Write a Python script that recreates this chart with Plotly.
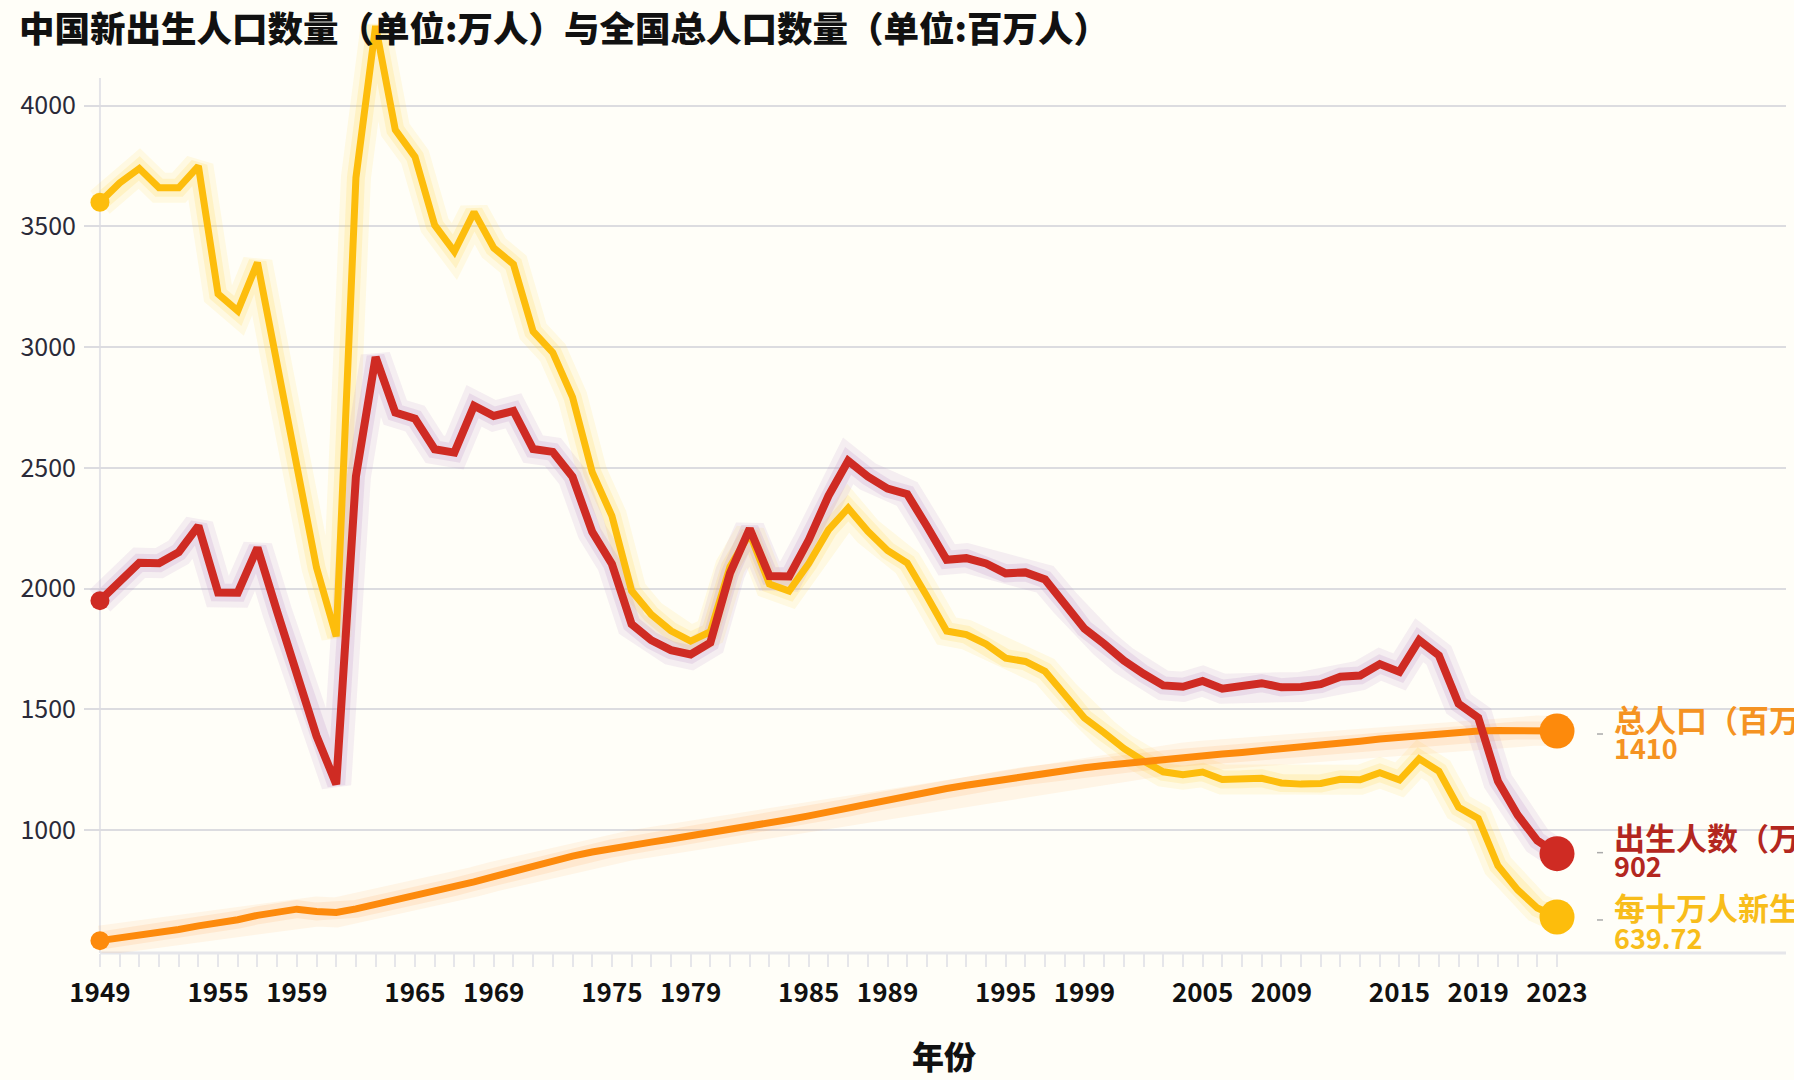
import plotly.graph_objects as go

# ---------------- data ----------------
years = list(range(1949, 2024))

# 出生人数（万人）
births = [1950, 2023, 2107, 2105, 2151, 2260, 1984, 1983, 2169, 1904,
          1647, 1389, 1189, 2464, 2959, 2729, 2704, 2577, 2563, 2757,
          2715, 2736, 2578, 2566, 2463, 2235, 2102, 1853, 1786, 1745,
          1727, 1776, 2064, 2248, 2052, 2050, 2202, 2384, 2529, 2464,
          2414, 2391, 2258, 2119, 2126, 2104, 2063, 2067, 2038, 1942,
          1834, 1771, 1702, 1647, 1599, 1593, 1617, 1585, 1595, 1608,
          1591, 1592, 1604, 1635, 1640, 1687, 1655, 1786, 1723, 1523,
          1465, 1202, 1062, 956, 902]

# 每十万人新生
birth_rate = [3600, 3680, 3740, 3660, 3660, 3750, 3220, 3150, 3350, 2922,
              2478, 2086, 1802, 3701, 4330, 3900, 3788, 3505, 3396, 3559,
              3411, 3343, 3065, 2977, 2793, 2482, 2301, 1991, 1893, 1825,
              1782, 1821, 2091, 2228, 2019, 1990, 2104, 2243, 2333, 2237,
              2158, 2106, 1968, 1824, 1809, 1770, 1712, 1698, 1657, 1564,
              1464, 1403, 1338, 1286, 1241, 1229, 1240, 1209, 1210, 1214,
              1195, 1190, 1193, 1210, 1208, 1237, 1207, 1295, 1243, 1094,
              1048, 852, 752, 677, 639.72]

# 总人口（百万人）
population = [541.7, 552.0, 563.0, 574.8, 588.0, 602.7, 614.7, 628.3, 646.5, 659.9,
              672.1, 662.1, 658.6, 673.0, 691.7, 705.0, 725.4, 745.4, 763.7, 785.3,
              806.7, 829.9, 852.3, 871.8, 892.1, 908.6, 924.2, 937.2, 949.7, 962.6,
              975.4, 987.1, 1000.7, 1016.5, 1030.1, 1043.6, 1058.5, 1075.1, 1093.0, 1110.3,
              1127.0, 1143.3, 1158.2, 1171.7, 1185.2, 1198.5, 1211.2, 1223.9, 1236.3, 1247.6,
              1257.9, 1267.4, 1276.3, 1284.5, 1292.3, 1299.9, 1307.6, 1314.5, 1321.3, 1328.0,
              1334.5, 1340.9, 1349.2, 1359.2, 1367.3, 1376.5, 1383.3, 1392.3, 1400.1, 1405.4,
              1410.1, 1412.1, 1412.6, 1411.8, 1410]

labeled_years = [1949, 1955, 1959, 1965, 1969, 1975, 1979, 1985, 1989,
                 1995, 1999, 2005, 2009, 2015, 2019, 2023]
y_ticks = [1000, 1500, 2000, 2500, 3000, 3500, 4000]

series_names = ["总人口（百万人）", "出生人数（万人）", "每十万人新生儿数"]
end_labels = ["1410", "902", "639.72"]

# ---------------- styling ----------------
FONT = "Noto Sans CJK SC"
C_RED = "#cf2b23"
C_YEL = "#fdbd0c"
C_ORA = "#fd8a0c"
BG = "#fffef8"

X0, X1 = 1948.19, 2034.63
Y0, Y1 = 490.5, 4375.7

fig = go.Figure()

series = [
    (birth_rate, C_YEL, "rgba(255,214,80,0.20)", "rgba(255,214,80,0.13)", 7),
    (population, C_ORA, "rgba(255,170,90,0.16)", "rgba(255,170,90,0.11)", 7),
    (births, C_RED, "rgba(190,150,200,0.22)", "rgba(190,150,200,0.15)", 8),
]

# halos (glow)
for vals, col, h1, h2, w in series:
    fig.add_trace(go.Scatter(x=years, y=vals, mode="lines",
                             line=dict(color=h2, width=30),
                             hoverinfo="skip", showlegend=False))
    fig.add_trace(go.Scatter(x=years, y=vals, mode="lines",
                             line=dict(color=h1, width=18),
                             hoverinfo="skip", showlegend=False))

# main lines
for vals, col, h1, h2, w in series:
    fig.add_trace(go.Scatter(x=years, y=vals, mode="lines",
                             line=dict(color=col, width=w),
                             showlegend=False))
    # start marker
    fig.add_trace(go.Scatter(x=[years[0]], y=[vals[0]], mode="markers",
                             marker=dict(color=col, size=19),
                             cliponaxis=False, showlegend=False))

# end markers
end_cols = [C_ORA, C_RED, C_YEL]
end_vals = [population[-1], births[-1], birth_rate[-1]]
for v, col in zip(end_vals, end_cols):
    fig.add_trace(go.Scatter(x=[years[-1]], y=[v], mode="markers",
                             marker=dict(color=col, size=35),
                             cliponaxis=False, showlegend=False))

# end labels
label_cols = ["#f59322", "#b3271f", "#f8bd1a"]
name_shift = [13, 17, 10]
val_shift = [-16, -12, -21]
annotations = []
for name, lab, v, col, ns, vs in zip(series_names, end_labels, end_vals,
                                     label_cols, name_shift, val_shift):
    annotations.append(dict(x=years[-1], y=v, xref="x", yref="y",
                            text=name, showarrow=False, xanchor="left",
                            yanchor="middle", xshift=55, yshift=ns,
                            font=dict(family=FONT, size=31, color=col, weight="bold")))
    annotations.append(dict(x=years[-1], y=v, xref="x", yref="y",
                            text=lab, showarrow=False, xanchor="left",
                            yanchor="middle", xshift=55, yshift=vs,
                            font=dict(family=FONT, size=27, color=col, weight="bold")))

# x axis title
annotations.append(dict(x=1991.87, y=-(1055 - 953) / 938, xref="x", yref="paper",
                        text="年份", showarrow=False, xanchor="center", yanchor="middle",
                        font=dict(family=FONT, size=32, color="#111111", weight=900)))

shapes = [
    # y axis line
    dict(type="line", xref="x", yref="y", x0=1949, x1=1949, y0=Y0, y1=4114.7,
         line=dict(color="#e4e4e8", width=2), layer="below"),
    # x axis line
    dict(type="line", xref="x", yref="paper", x0=1949, x1=X1, y0=0, y1=0,
         line=dict(color="#e6e6ea", width=3), layer="below"),
]
# tiny label connectors
for v, dy in zip(end_vals, [-3, 1, -3]):
    shapes.append(dict(type="line", xref="x", yref="y", xsizemode="pixel",
                       ysizemode="pixel", xanchor=years[-1], yanchor=v,
                       x0=40, x1=46, y0=dy, y1=dy,
                       line=dict(color="#aaaaaa", width=1.5)))

ticktext = [str(y) if y in labeled_years else "" for y in years]

fig.update_layout(
    width=1794, height=1080,
    margin=dict(l=84, r=8, t=15, b=127),
    paper_bgcolor=BG, plot_bgcolor=BG,
    title=dict(text="中国新出生人口数量（单位:万人）与全国总人口数量（单位:百万人）",
               x=19 / 1794, xref="container", xanchor="left",
               y=1 - 30 / 1080, yref="container", yanchor="middle",
               font=dict(family=FONT, size=35.5, color="#111111", weight=900)),
    xaxis=dict(range=[X0, X1], tickvals=years, ticktext=ticktext,
               showgrid=False, zeroline=False, showline=False,
               ticks="outside", ticklen=13, tickwidth=2, tickcolor="#e6e6ea",
               tickfont=dict(family=FONT, size=26, color="#111111", weight="bold"),
               ticklabelstandoff=4),
    yaxis=dict(range=[Y0, Y1], tickvals=y_ticks, showgrid=True,
               gridcolor="#dcdce0", gridwidth=2, zeroline=False, showline=False,
               ticks="", tickfont=dict(family=FONT, size=25, color="#2a2a38"),
               ticklabelstandoff=7),
    annotations=annotations,
    shapes=shapes,
    showlegend=False,
)

fig.write_html("out.html",
               config={"displayModeBar": False},
               post_script="document.body.style.margin='0';document.body.style.overflow='hidden';")
